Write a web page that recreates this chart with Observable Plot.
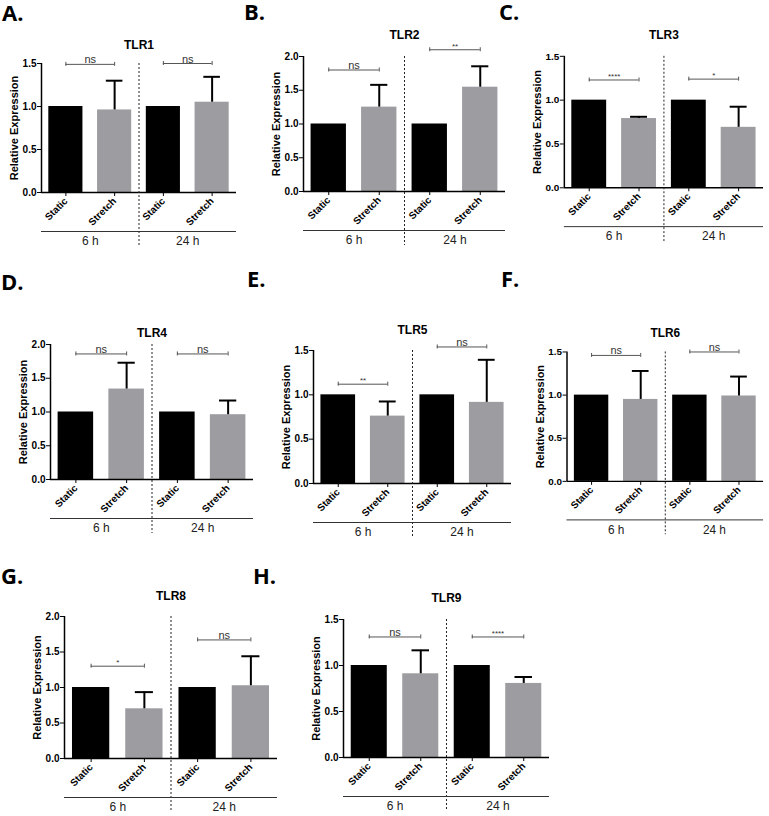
<!DOCTYPE html>
<html><head><meta charset="utf-8">
<script src="https://cdn.jsdelivr.net/npm/d3@7"></script>
<script src="https://cdn.jsdelivr.net/npm/@observablehq/plot@0.6"></script>
<style>
html,body{margin:0;padding:0;background:#fff;}
#fig{position:relative;width:769px;height:816px;overflow:hidden;background:#fff;}
.panel{position:absolute;}
.panel svg{overflow:visible;}
.letter{position:absolute;font-family:"Open Sans",sans-serif;font-weight:700;font-size:22px;line-height:16px;color:#000;}
</style></head><body><div id="fig"></div>
<script>
// ---- data ----
const panelLetters = ["A.","B.","C.","D.","E.","F.","G.","H."];
const genes = ["TLR1","TLR2","TLR3","TLR4","TLR5","TLR6","TLR8","TLR9"];
const conditions = ["Static","Stretch","Static","Stretch"];
const timepoints = ["6 h","24 h"];
const yLabel = "Relative Expression";
const static6h        = [1, 1, 1, 1, 1, 1, 1, 1];
const stretch6h       = [0.96, 1.25, 0.79, 1.34, 0.76, 0.95, 0.70, 0.91];
const stretch6hUpper  = [1.30, 1.58, 0.81, 1.73, 0.925, 1.28, 0.935, 1.165];
const static24h       = [1, 1, 1, 1, 1, 1, 1, 1];
const stretch24h      = [1.05, 1.545, 0.69, 0.96, 0.915, 0.99, 1.025, 0.805];
const stretch24hUpper = [1.345, 1.855, 0.925, 1.17, 1.395, 1.215, 1.44, 0.875];
const sig6h   = ["ns","ns","****","ns","**","ns","*","ns"];
const sig24h  = ["ns","**","*","ns","ns","ns","ns","****"];
const sig6hY  = [1.49, 1.80, 1.23, 1.86, 1.12, 1.46, 1.30, 1.31];
const sig24hY = [1.50, 2.10, 1.24, 1.86, 1.54, 1.50, 1.67, 1.31];
const yMax    = [1.5, 2.0, 1.5, 2.0, 1.5, 1.5, 2.0, 1.5];

// ---- layout (pixels) ----
const axisX = [41, 303, 564, 50, 313, 567, 64, 343];
const xEnd  = [236, 505, 764, 253, 511, 766, 277, 549];
const yTop  = [63, 56, 56, 344, 350, 352, 616, 619];
const yZero = [192, 191, 188, 479, 483, 483, 758, 757];
const titleY = [45, 35, 35, 333, 330, 333, 596, 598];
const letterPos = [[2,20],[244,19],[499,19],[1,289],[247,286],[501,286],[1,583],[253,583]];

const fig = document.getElementById("fig");
const gray = "#9d9da1";
const font = "'Liberation Sans', Arial, sans-serif";

genes.forEach((gene, k) => {
  const mL = 40, mR = 6, mT = 42, mB = 64;
  const width = xEnd[k] - axisX[k] + mL + mR;
  const height = yZero[k] - yTop[k] + mT + mB;
  const ymax = yMax[k];
  const bars = [
    {i: 0, cond: conditions[0], value: static6h[k], upper: static6h[k]},
    {i: 1, cond: conditions[1], value: stretch6h[k], upper: stretch6hUpper[k]},
    {i: 2, cond: conditions[2], value: static24h[k], upper: static24h[k]},
    {i: 3, cond: conditions[3], value: stretch24h[k], upper: stretch24hUpper[k]}
  ];
  const errs = bars.filter(d => d.upper > d.value);
  const sig = [
    {x1: 0.5, x2: 1.5, y: sig6hY[k], label: sig6h[k]},
    {x1: 2.5, x2: 3.5, y: sig24hY[k], label: sig24h[k]}
  ];
  const sigEnds = sig.flatMap(s => [{x: s.x1, y: s.y}, {x: s.x2, y: s.y}]);

  const chart = Plot.plot({
    width, height, marginLeft: mL, marginRight: mR, marginTop: mT, marginBottom: mB,
    x: {domain: [0, 4], axis: null},
    y: {domain: [0, ymax], axis: null},
    style: `font-family:${font};font-size:10px;font-weight:bold;color:#000;background:transparent;overflow:visible;`,
    marks: [
      Plot.rect(bars, {x1: d => d.i + 0.15, x2: d => d.i + 0.85, y1: 0, y2: "value",
        fill: d => d.cond === "Static" ? "#000" : gray}),
      Plot.ruleX(errs, {x: d => d.i + 0.5, y1: "value", y2: "upper", stroke: "#000", strokeWidth: 2}),
      Plot.ruleY(errs, {y: "upper", x1: d => d.i + 0.33, x2: d => d.i + 0.67, stroke: "#000", strokeWidth: 2}),
      Plot.axisY({ticks: d3.range(0, ymax + 1e-6, 0.5), tickFormat: d3.format(".1f"), tickSize: 4,
        tickPadding: 1, label: null, fontWeight: "bold", fontSize: 10}),
      Plot.axisX({ticks: [0.5, 1.5, 2.5, 3.5], tickFormat: d => conditions[Math.floor(d)],
        tickRotate: -45, tickSize: 4, tickPadding: 3, label: null, fontWeight: "bold", fontSize: 10}),
      Plot.ruleX([0], {y1: 0, y2: ymax, stroke: "#000", strokeWidth: 1.5}),
      Plot.ruleY([0], {stroke: "#000", strokeWidth: 1.5}),
      Plot.ruleX([2], {y1: ymax, y2: 0, insetBottom: -54, stroke: "#222", strokeWidth: 1, strokeDasharray: "2,2"}),
      Plot.ruleY([0], {x1: 0, x2: 4, dy: 39, stroke: "#333", strokeWidth: 1}),
      Plot.text(timepoints, {x: (d, i) => i * 2 + 1, y: 0, dy: 49, text: d => d,
        fontSize: 12, fontWeight: "normal", fill: "#222"}),
      Plot.ruleY(sig, {y: "y", x1: "x1", x2: "x2", stroke: "#555", strokeWidth: 1}),
      Plot.ruleX(sigEnds, {x: "x", y1: "y", y2: "y", insetTop: -2, insetBottom: -2, stroke: "#555", strokeWidth: 1}),
      Plot.text(sig, {x: d => (d.x1 + d.x2) / 2, y: "y", text: "label", lineAnchor: "bottom", dy: -1,
        fontSize: d => d.label === "ns" ? 11 : 8, fontWeight: "normal", fill: "#333"}),
      Plot.text([gene], {frameAnchor: "top", dy: titleY[k] - yTop[k], lineAnchor: "middle",
        text: d => d, fontSize: 12, fontWeight: "bold"}),
      Plot.text([yLabel], {frameAnchor: "left", rotate: -90, dx: -27, text: d => d,
        textAnchor: "middle", lineAnchor: "middle", fontSize: 11, fontWeight: "bold"})
    ]
  });
  const div = document.createElement("div");
  div.className = "panel";
  div.style.left = (axisX[k] - mL) + "px";
  div.style.top = (yTop[k] - mT) + "px";
  div.appendChild(chart);
  fig.appendChild(div);

  const lt = document.createElement("div");
  lt.className = "letter";
  lt.textContent = panelLetters[k];
  lt.style.left = letterPos[k][0] + "px";
  lt.style.top = (letterPos[k][1] - 16) + "px";
  fig.appendChild(lt);
});
</script>
</body></html>
